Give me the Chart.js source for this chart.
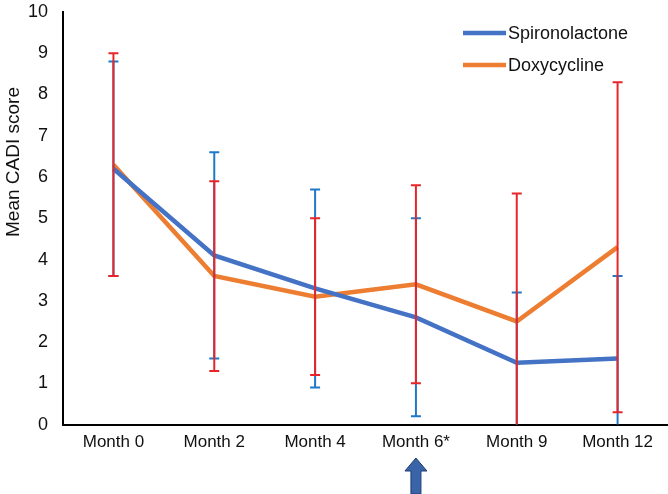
<!DOCTYPE html>
<html>
<head>
<meta charset="utf-8">
<script src="https://cdn.jsdelivr.net/npm/chart.js@4/dist/chart.umd.min.js"></script>
<style>
  body { margin: 0; background: #fff; }
  canvas { display: block; }
</style>
</head>
<body>
<canvas id="cadiChart" width="668" height="494"></canvas>
<script>
// data
const months = ["Month 0", "Month 2", "Month 4", "Month 6*", "Month 9", "Month 12"];
const spiroMean = [6.2, 4.1, 3.3, 2.6, 1.5, 1.6];
const spiroSd = [2.6, 2.5, 2.4, 2.4, 1.7, 2.0];
const doxyMean = [6.3, 3.6, 3.1, 3.4, 2.5, 4.3];
const doxySd = [2.7, 2.3, 1.9, 2.4, 3.1, 4.0];
const yTicks = [0, 1, 2, 3, 4, 5, 6, 7, 8, 9, 10];
const arrowAt = "Month 6*";

const fontFamily = "'Liberation Sans', Arial, sans-serif";

// draws the error bars (blue under red), y title, legend and the arrow
const extrasPlugin = {
    id: "extras",
    afterDatasetsDraw(chart) {
        const ctx = chart.ctx;
        const x = chart.scales.x;
        const y = chart.scales.y;
        const area = chart.chartArea;

        function drawBars(means, sds, color) {
            ctx.save();
            ctx.beginPath();
            ctx.rect(area.left, area.top - 10, area.right - area.left, area.bottom - area.top + 10);
            ctx.clip();
            ctx.strokeStyle = color;
            ctx.lineWidth = 2;
            means.forEach((m, i) => {
                const px = x.getPixelForValue(i);
                const top = y.getPixelForValue(m + sds[i]);
                const bot = y.getPixelForValue(m - sds[i]);
                ctx.beginPath();
                ctx.moveTo(px, top);
                ctx.lineTo(px, bot);
                ctx.moveTo(px - 5, top);
                ctx.lineTo(px + 5, top);
                ctx.moveTo(px - 5, bot);
                ctx.lineTo(px + 5, bot);
                ctx.stroke();
            });
            ctx.restore();
        }
        drawBars(spiroMean, spiroSd, "#1F78C8");
        drawBars(doxyMean, doxySd, "#E8262A");

        // y axis title, sits higher than the axis middle
        ctx.save();
        ctx.font = "19px " + fontFamily;
        ctx.fillStyle = "#111";
        ctx.textAlign = "center";
        ctx.textBaseline = "middle";
        ctx.translate(14, 162);
        ctx.rotate(-Math.PI / 2);
        ctx.fillText("Mean CADI score", 0, 0);
        ctx.restore();

        // legend
        ctx.save();
        ctx.font = "18px " + fontFamily;
        ctx.textBaseline = "middle";
        ctx.lineWidth = 4.5;
        const legendItems = [["Spironolactone", "#4472C4", 33], ["Doxycycline", "#ED7D31", 65]];
        legendItems.forEach(([label, color, ly]) => {
            ctx.strokeStyle = color;
            ctx.beginPath();
            ctx.moveTo(463, ly);
            ctx.lineTo(506, ly);
            ctx.stroke();
            ctx.fillStyle = "#111";
            ctx.fillText(label, 508, ly + 1);
        });
        ctx.restore();

        // arrow under Month 6*
        const ax = x.getPixelForValue(months.indexOf(arrowAt));
        ctx.save();
        ctx.fillStyle = "#3A64A8";
        ctx.strokeStyle = "#1F3D73";
        ctx.lineWidth = 1;
        ctx.beginPath();
        ctx.moveTo(ax, 458);
        ctx.lineTo(ax + 11, 471);
        ctx.lineTo(ax + 5, 471);
        ctx.lineTo(ax + 5, 494);
        ctx.lineTo(ax - 5, 494);
        ctx.lineTo(ax - 5, 471);
        ctx.lineTo(ax - 11, 471);
        ctx.closePath();
        ctx.fill();
        ctx.stroke();
        ctx.restore();
    }
};

const ctx = document.getElementById("cadiChart").getContext("2d");
const cadiChart = new Chart(ctx, {
    type: "line",
    data: {
        labels: months,
        datasets: [
            {
                label: "Spironolactone",
                data: spiroMean,
                borderColor: "#4472C4",
                backgroundColor: "#4472C4",
                borderWidth: 4.5,
                pointRadius: 0,
                tension: 0
            },
            {
                label: "Doxycycline",
                data: doxyMean,
                borderColor: "#ED7D31",
                backgroundColor: "#ED7D31",
                borderWidth: 4.5,
                pointRadius: 0,
                tension: 0
            }
        ]
    },
    options: {
        responsive: false,
        animation: false,
        layout: { padding: { top: 12, right: 0, bottom: 33, left: 13 } },
        plugins: {
            legend: { display: false },
            tooltip: { enabled: false }
        },
        scales: {
            x: {
                offset: true,
                grid: { display: false, drawTicks: false },
                border: { color: "#000", width: 2 },
                ticks: {
                    color: "#111",
                    font: { family: fontFamily, size: 17 },
                    padding: 8,
                    maxRotation: 0
                }
            },
            y: {
                min: 0,
                max: 10,
                afterBuildTicks: (axis) => {
                    axis.ticks = yTicks.map(v => ({ value: v }));
                },
                afterFit: (axis) => {
                    axis.paddingTop = 0;
                },
                grid: { display: false, drawTicks: false },
                border: { color: "#000", width: 2 },
                ticks: {
                    color: "#111",
                    font: { family: fontFamily, size: 18 },
                    padding: 15
                }
            }
        }
    },
    plugins: [extrasPlugin]
});
</script>
</body>
</html>
